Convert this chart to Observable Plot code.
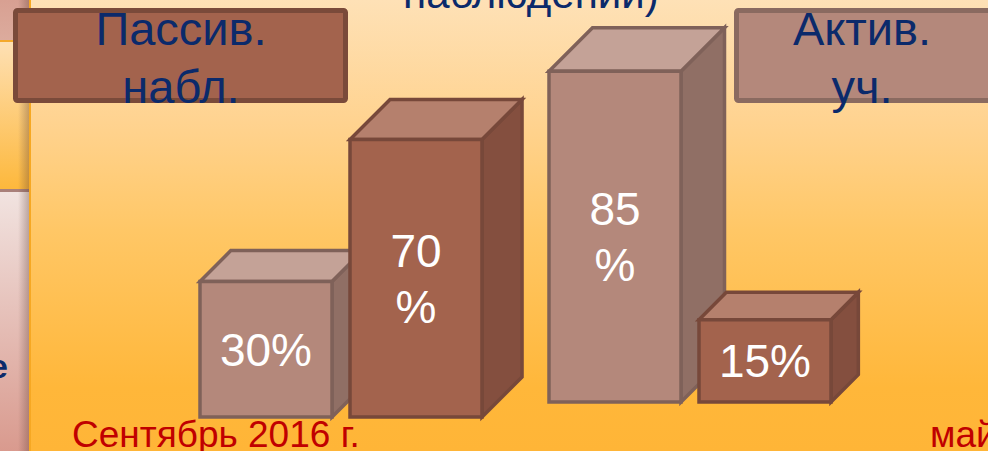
<!DOCTYPE html>
<html>
<head>
<meta charset="utf-8">
<script src="https://cdn.jsdelivr.net/npm/d3@7"></script>
<script src="https://cdn.jsdelivr.net/npm/@observablehq/plot@0.6"></script>
<style>
html, body { margin: 0; padding: 0; }
body { width: 988px; height: 451px; overflow: hidden; font-family: "Liberation Sans", Arial, sans-serif; }
#slide { position: relative; width: 988px; height: 451px; overflow: hidden;
  background: linear-gradient(to bottom, #fee1b6 0%, #ffd390 27%, #ffc766 51%, #ffb73a 86%, #ffb537 100%); }
#strip { position: absolute; left: 0; top: 0; width: 29px; height: 451px; }
#strip .a { position: absolute; left: 0; top: 0; width: 29px; height: 40px; background: linear-gradient(to bottom, #d8a092, #dcab9d); }
#strip .b { position: absolute; left: 0; top: 40px; width: 29px; height: 2px; background: #f4a92c; }
#strip .c { position: absolute; left: 0; top: 42px; width: 29px; height: 147px; background: linear-gradient(to bottom, #fee0b4, #fdb83c); }
#strip .d { position: absolute; left: 0; top: 189px; width: 29px; height: 3px; background: #a9807a; }
#strip .e { position: absolute; left: 0; top: 192px; width: 29px; height: 259px; background: linear-gradient(to bottom, #f1e3e0, #d99a8e); }
#strip .shade { position: absolute; left: 18px; top: 0; width: 11px; height: 451px; background: linear-gradient(to right, rgba(90,60,50,0), rgba(90,60,50,0.35)); }
#strip .edge { position: absolute; left: 29px; top: 0; width: 2px; height: 451px; background: #f6a823; }
#chart, #overlay { position: absolute; left: 0; top: 0; }
</style>
</head>
<body>
<div id="slide">
  <div id="strip"><div class="a"></div><div class="b"></div><div class="c"></div><div class="d"></div><div class="e"></div><div class="shade"></div><div class="edge"></div></div>
  <div id="chart"></div>
  <svg id="overlay" width="988" height="451"></svg>
</div>
<script>
// ---- data ----
const groups = ["Сентябрь 2016 г.", "май 2017 г."];
const series = ["Актив. уч.", "Пассив. набл."];
const aktivValues = [30, 85];
const passivValues = [70, 15];
const aktivLabels = ["30%", "85\n%"];
const passivLabels = ["70\n%", "15%"];
const titleText = "наблюдений)";
const stripText = "е";

// ---- styles ----
const colors = {
  "Актив. уч.":   {front: "#b4887b", top: "#c4a297", side: "#906f65", stroke: "#7f6159", legendStroke: "#8a6a60"},
  "Пассив. набл.": {front: "#a3634d", top: "#b5806d", side: "#844f3f", stroke: "#77483a", legendStroke: "#7a4a3a"}
};
const FLOOR = -8.2;      // 3D floor thickness below zero
const LIFT = 15;         // perspective rise per category
const font = '"Liberation Sans", Arial, sans-serif';

const data = [];
groups.forEach((g, i) => {
  data.push({group: g, gi: i, series: series[0], value: aktivValues[i], label: aktivLabels[i]});
  data.push({group: g, gi: i, series: series[1], value: passivValues[i], label: passivLabels[i]});
});

function bars3d(index, scales, values, dimensions, context) {
  const {x, y} = scales;
  const bw = x.bandwidth();
  const g = d3.create("svg:g");
  const order = Array.from(index).sort((a, b) => x(data[a].series) - x(data[b].series));
  for (const i of order) {
    const d = data[i];
    const c = colors[d.series];
    const lift = LIFT * d.gi;
    const x0 = x(d.series), x1 = x0 + bw;
    const yb = y(FLOOR) - lift, yt = y(d.value) - lift;
    const h = yb - yt;
    const k = 22 + 0.065 * h;
    const poly = (pts, fill) => g.append("polygon")
      .attr("points", pts.map(p => p.join(",")).join(" "))
      .attr("fill", fill).attr("stroke", c.stroke).attr("stroke-width", 3.5)
      .attr("stroke-linejoin", "miter");
    poly([[x1, yt], [x1 + k, yt - k], [x1 + k, yb - k], [x1, yb]], c.side);
    poly([[x0, yt], [x0 + k, yt - k], [x1 + k, yt - k], [x1, yt]], c.top);
    poly([[x0, yt], [x1, yt], [x1, yb], [x0, yb]], c.front);
    const lines = d.label.split("\n");
    const lh = 56, cy = (yt + yb) / 2, cx = (x0 + x1) / 2;
    lines.forEach((t, j) => {
      g.append("text").attr("x", cx).attr("y", cy + (j - (lines.length - 1) / 2) * lh)
        .attr("dy", "0.36em").attr("text-anchor", "middle")
        .attr("fill", "#ffffff").attr("font-size", 46).attr("font-family", font)
        .text(t);
    });
  }
  return g.node();
}

const chart = Plot.plot({
  width: 988, height: 451,
  marginLeft: 198, marginRight: 157, marginTop: 33, marginBottom: 34,
  style: {background: "transparent", overflow: "visible"},
  fx: {domain: groups, paddingInner: 0.19, paddingOuter: 0, axis: null, label: null},
  x: {domain: series, paddingInner: 0.12, paddingOuter: 0, axis: null},
  y: {domain: [FLOOR, 100], axis: null},
  marks: [
    Plot.barY(data, {fx: "group", x: "series", y1: FLOOR, y2: "value", render: bars3d})
  ]
});
document.getElementById("chart").appendChild(chart);

// ---- overlay: title fragment, legend, category labels ----
const ov = d3.select("#overlay").attr("font-family", font);
ov.append("text").attr("x", 403).attr("y", 8).attr("font-size", 42).attr("fill", "#0b2a6b").text(titleText);
ov.append("text").attr("x", -11).attr("y", 378).attr("font-size", 34).attr("font-weight", "bold").attr("fill", "#0b2a6b").text(stripText);

const legendBoxes = [
  {s: series[1], x: 15.5, w: 330, cx: 181},
  {s: series[0], x: 736.5, w: 262, cx: 862}
];
legendBoxes.forEach(b => {
  const c = colors[b.s];
  ov.append("rect").attr("x", b.x).attr("y", 10.5).attr("width", b.w).attr("height", 90).attr("rx", 2)
    .attr("fill", c.front).attr("stroke", c.legendStroke).attr("stroke-width", 5);
  const parts = b.s.split(" ");
  parts.forEach((p, j) => {
    ov.append("text").attr("x", b.cx).attr("y", 45 + j * 57.5).attr("text-anchor", "middle")
      .attr("font-size", 47).attr("fill", "#0b2a6b").text(p);
  });
});

const catX = [72, 930];
groups.forEach((g, i) => {
  ov.append("text").attr("x", catX[i]).attr("y", 447).attr("font-size", 37).attr("fill", "#c00000").text(g);
});
</script>
</body>
</html>
